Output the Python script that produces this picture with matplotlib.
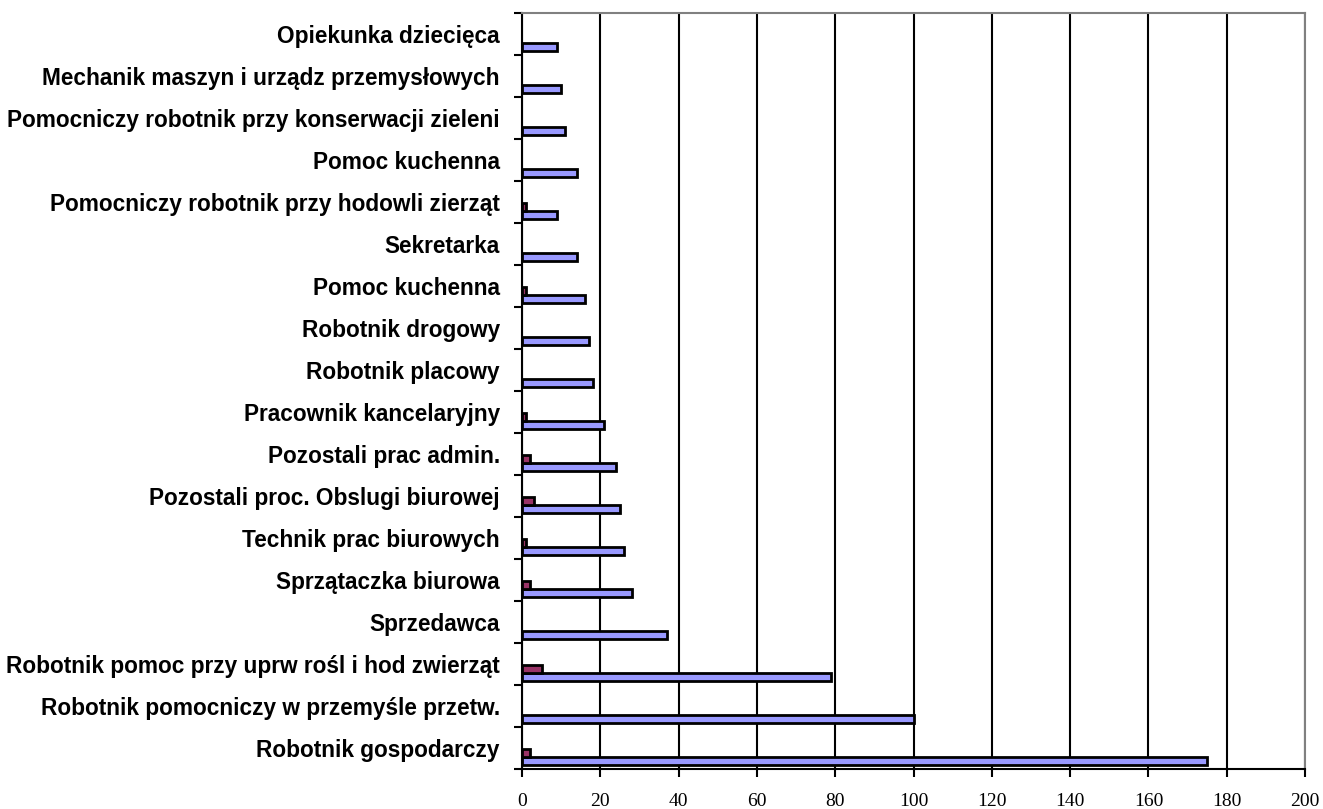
import matplotlib
matplotlib.use('Agg')
import matplotlib.pyplot as plt
import numpy as np

# Categories from bottom to top
categories = [
    'Robotnik gospodarczy',
    'Robotnik pomocniczy w przemyśle przetw.',
    'Robotnik pomoc przy uprw rośl i hod zwierząt',
    'Sprzedawca',
    'Sprzątaczka biurowa',
    'Technik prac biurowych',
    'Pozostali proc. Obslugi biurowej',
    'Pozostali prac admin.',
    'Pracownik kancelaryjny',
    'Robotnik placowy',
    'Robotnik drogowy',
    'Pomoc kuchenna',
    'Sekretarka',
    'Pomocniczy robotnik przy hodowli zierząt',
    'Pomoc kuchenna',
    'Pomocniczy robotnik przy konserwacji zieleni',
    'Mechanik maszyn i urządz przemysłowych',
    'Opiekunka dziecięca',
]
blue_values = [175, 100, 79, 37, 28, 26, 25, 24, 21, 18, 17, 16, 14, 9, 14, 11, 10, 9]
red_values = [2, 0, 5, 0, 2, 1, 3, 2, 1, 0, 0, 1, 0, 1, 0, 0, 0, 0]
x_ticks = list(range(0, 201, 20))

fig = plt.figure(figsize=(13.23, 8.09), dpi=100)
ax = fig.add_axes([0.3946, 0.0494, 0.9864 - 0.3946, 0.984 - 0.0494])

pos = np.arange(len(categories))
bar_h = 0.19
blue = np.array(blue_values)
red = np.array(red_values)

# skip empty values so no outline sliver is drawn at zero
ax.barh(pos[blue > 0] + 0.19, blue[blue > 0], height=bar_h, color='#9999FF',
        edgecolor='black', linewidth=2, zorder=3)
ax.barh(pos[red > 0] + 0.38, red[red > 0], height=bar_h, color='#993366',
        edgecolor='black', linewidth=2, zorder=3)

ax.set_xlim(0, 200)
ax.set_ylim(0, len(categories))
ax.set_xticks(x_ticks)
ax.set_xticklabels([str(t) for t in x_ticks], fontfamily='Liberation Serif', fontsize=14)

ax.set_yticks(np.arange(len(categories) + 1))
ax.set_yticklabels([])
ax.set_yticks(pos + 0.5, minor=True)
ax.set_yticklabels(categories, minor=True, fontfamily='Liberation Sans',
                   fontweight='bold', fontsize=16.3)
ax.tick_params(axis='y', which='minor', length=0, pad=16)
ax.tick_params(axis='y', which='major', length=6, width=1.5, direction='out')
ax.tick_params(axis='x', length=6, width=1.5, direction='out', pad=11)

ax.grid(True, axis='x', color='black', linewidth=1.5, zorder=0)
for s in ['left', 'bottom']:
    ax.spines[s].set_linewidth(1.5)
    ax.spines[s].set_color('black')
for s in ['top', 'right']:
    ax.spines[s].set_linewidth(1.5)
    ax.spines[s].set_color('#808080')

fig.savefig('out.png', dpi=100)
